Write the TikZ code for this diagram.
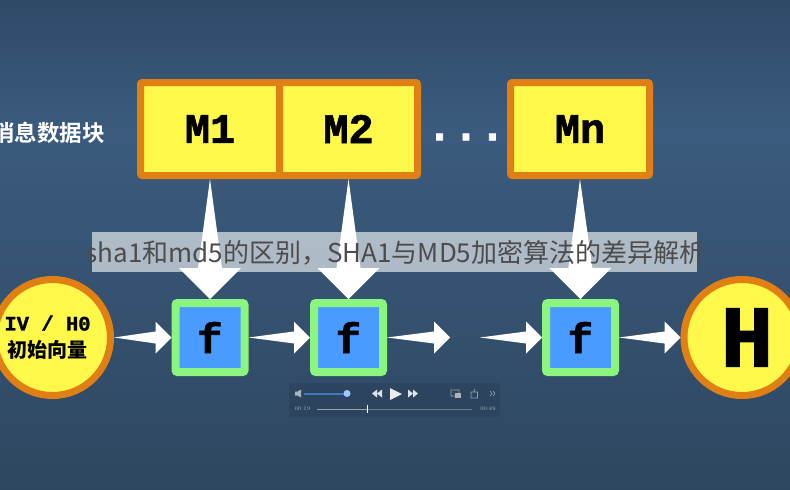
\documentclass[tikz,border=0pt]{standalone}
\usepackage{fontspec}
\usetikzlibrary{positioning,calc}
\newfontfamily\slabfont{Liberation Mono}[BoldFeatures={FakeBold=1.5}]
\newfontfamily\cjkfont{Noto Sans CJK SC}
\newfontfamily\cjkbold{Noto Sans CJK SC Bold}
\definecolor{boxorange}{HTML}{E08014}
\definecolor{boxyellow}{HTML}{FDF84A}
\definecolor{boxgreen}{HTML}{8CF57F}
\definecolor{boxblue}{HTML}{4A9BFF}
\definecolor{bgtop}{HTML}{2F4A67}
\definecolor{bgmid}{HTML}{3B5B7E}
\definecolor{bgbot}{HTML}{2E4760}
\definecolor{playerbg}{HTML}{2B405A}
\newcommand{\pointer}[5]{
    \fill[white] (#1) -- ($(#2)!#3!(#1)!#5!90:(#2)$) -- ($(#2)!#3!(#1)!#4!90:(#2)$) -- (#2)
        -- ($(#2)!#3!(#1)!#4!-90:(#2)$) -- ($(#2)!#3!(#1)!#5!-90:(#2)$) -- cycle;
}
\begin{document}
\begin{tikzpicture}[x=1pt,y=-1pt]
        \tikzstyle{msgbox}=[draw=boxorange, fill=boxyellow, line width=7pt, rounded corners=2pt, minimum height=93pt, font=\slabfont\bfseries\fontsize{42}{42}\selectfont]
        \tikzstyle{fbox}=[draw=boxgreen, fill=boxblue, line width=8pt, rounded corners=2pt, minimum size=69pt, font=\slabfont\bfseries\fontsize{42}{42}\selectfont]
        \tikzstyle{endcircle}=[draw=boxorange, fill=boxyellow, circle, line width=7pt, minimum size=116pt, align=center, inner sep=0pt]
        \tikzstyle{playertext}=[text=white!60!playerbg, font=\fontsize{5.5}{6}\selectfont, inner sep=0pt]

        \useasboundingbox (0,0) rectangle (790,490);
        \clip (0,0) rectangle (790,490);
        \shade[top color=bgtop, bottom color=bgmid] (0,0) rectangle (790,130);
        \shade[top color=bgmid, bottom color=bgbot] (0,130) rectangle (790,490);

        \node   (title)  [anchor=west, text=white, font=\cjkbold\fontsize{22.5}{23}\selectfont, inner sep=0pt] at (-8,133) {消息数据块};
        \node   (m1)     [msgbox, minimum width=139pt] at (210,129) {M1};
        \node   (m2)     [msgbox, minimum width=138pt] at (348.5,129) {M2};
        \node   (mn)     [msgbox, minimum width=139pt] at (580,129) {Mn};
        \node   (dots)   [text=white, font=\slabfont\bfseries\fontsize{44}{44}\selectfont, inner sep=0pt] at (466,137) {...};
        \fill[boxorange] (m2.north west) rectangle (m1.south east);

        \node   (iv)     [endcircle, font=\slabfont\bfseries\fontsize{20.5}{24}\selectfont] at (52.5,337.5) {IV / H0\hspace*{10pt}\\[3pt]{\cjkbold\fontsize{20}{24}\selectfont 初始向量}\hspace*{10pt}};
        \node   (f1)     [fbox] at (210,337.5) {f};
        \node   (f2)     [fbox] at (348.5,337.5) {f};
        \node   (f3)     [fbox] at (580.5,337.5) {f};
        \node   (h)      [endcircle, font=\slabfont\bfseries\fontsize{88}{88}\selectfont] at (742,337.5) {\hspace*{10pt}H};

        \coordinate (f2out) at (450,337.5);
        \coordinate (f3in)  at (480,337.5);

        \pointer{m1.south}{f1.north}{31pt}{31pt}{12pt}
        \pointer{m2.south}{f2.north}{31pt}{31pt}{12pt}
        \pointer{mn.south}{f3.north}{31pt}{31pt}{12pt}
        \pointer{iv.east}{f1.west}{16pt}{16pt}{6pt}
        \pointer{f1.east}{f2.west}{16pt}{16pt}{6pt}
        \pointer{f2.east}{f2out}{16pt}{16pt}{6pt}
        \pointer{f3in}{f3.west}{16pt}{16pt}{6pt}
        \pointer{f3.east}{h.west}{16pt}{16pt}{6pt}

        % caption band over the picture
        \fill[white, opacity=0.6] (92,232) rectangle (697,272);
        \node   (caption) [text=black!70, font=\cjkfont\fontsize{26}{26}\selectfont, inner sep=0pt] at (395.5,253) {sha1和md5的区别，SHA1与MD5加密算法的差异解析};

        % player bar
        \fill[playerbg, opacity=0.6, rounded corners=2pt] (289,383) rectangle (500,417);
        \fill[white!60!playerbg] (295,391.5) rectangle (297.5,395.5) (297.5,391.5) -- (301,389.5) -- (301,397.5) -- (297.5,395.5) -- cycle;
        \draw[color=boxblue!60!playerbg, line width=2pt] (304,393.5) -- (347,393.5);
        \fill[white!45!boxblue] (347,393.5) circle (3.5);
        \fill[white!85!playerbg] (382,389.5) -- (377,393.5) -- (382,397.5) -- cycle (377,389.5) -- (372,393.5) -- (377,397.5) -- cycle;
        \fill[white!90!playerbg] (390,388) -- (402,394) -- (390,400) -- cycle;
        \fill[white!85!playerbg] (408,389.5) -- (413,393.5) -- (408,397.5) -- cycle (413,389.5) -- (418,393.5) -- (413,397.5) -- cycle;
        \draw[white!50!playerbg, line width=0.6pt] (451,390) rectangle (459,396) (471,392) rectangle (477.5,398) (474.2,392) -- (474.2,389) (490,391) -- (492,393.5) -- (490,396) (493,391) -- (495,393.5) -- (493,396);
        \fill[white!60!playerbg] (455,393) rectangle (461,398);
        \node   (timeleft)  [playertext] at (302.5,409) {00:19};
        \node   (timeright) [playertext] at (488,409) {00:49};
        \draw[white!30!playerbg, line width=1pt] (367,409) -- (472,409);
        \draw[white!50!playerbg, line width=1pt] (317,409) -- (367,409);
        \draw[white, line width=0.8pt] (367,405) -- (367,413);
    \end{tikzpicture}
\end{document}
